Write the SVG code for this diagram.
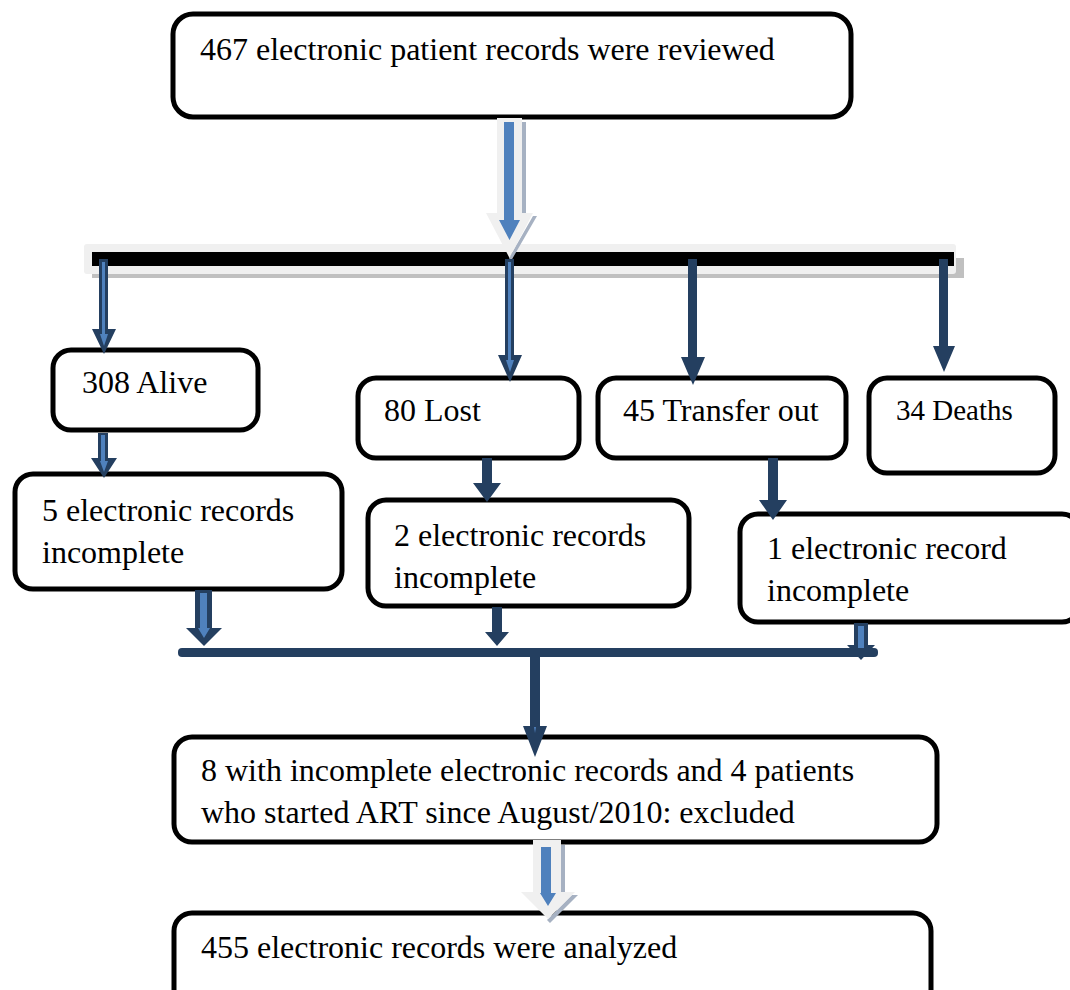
<svg xmlns="http://www.w3.org/2000/svg" width="1070" height="990" viewBox="0 0 1070 990">
<style>
.box{fill:#fff;stroke:#000;stroke-width:5}
.t{font-family:"Liberation Serif","Times New Roman",serif;font-size:32px;fill:#000}
.nav{fill:#243f60}
.blu{fill:#4f81bd}
.big{fill:#f0f0f0}
.sh{fill:#a6b1c2}
</style>
<rect width="1070" height="990" fill="#fff"/>
<g id="n1"><rect class="box" x="173" y="14" width="678" height="103" rx="20"/><text class="t" x="200" y="60">467 electronic patient records were reviewed</text></g>
<g id="n2"><rect class="box" x="53" y="350" width="205" height="80" rx="18"/><text class="t" x="82" y="393">308 Alive</text></g>
<g id="n3"><rect class="box" x="358" y="378" width="221" height="80" rx="18"/><text class="t" x="384" y="421">80 Lost</text></g>
<g id="n4"><rect class="box" x="598" y="378" width="248" height="80" rx="18"/><text class="t" x="623" y="421">45 Transfer out</text></g>
<g id="n5"><rect class="box" x="869" y="378" width="186" height="95" rx="18"/><text class="t" x="896" y="420" style="font-size:29px">34 Deaths</text></g>
<g id="n6"><rect class="box" x="15" y="474" width="327" height="115" rx="18"/><text class="t" x="42" y="521">5 electronic records</text><text class="t" x="42" y="563">incomplete</text></g>
<g id="n7"><rect class="box" x="368" y="500" width="321" height="106" rx="18"/><text class="t" x="394" y="546">2 electronic records</text><text class="t" x="394" y="588">incomplete</text></g>
<g id="n8"><rect class="box" x="740" y="514" width="340" height="108" rx="18"/><text class="t" x="767" y="559">1 electronic record</text><text class="t" x="767" y="601">incomplete</text></g>
<g id="n9"><rect class="box" x="174" y="737" width="763" height="105" rx="18"/><text class="t" x="201" y="781">8 with incomplete electronic records and 4 patients</text><text class="t" x="201" y="823">who started ART since August/2010: excluded</text></g>
<g id="n10"><rect class="box" x="174" y="913" width="757" height="100" rx="18"/><text class="t" x="201" y="958">455 electronic records were analyzed</text></g>
<g id="connectors">
<!-- bar -->
<rect x="92" y="258" width="872" height="20" fill="#c0c0c0"/>
<rect x="84" y="244" width="872" height="30" rx="3" fill="#f0f0f0"/>
<rect x="92" y="252" width="862" height="14" fill="#000"/>
<!-- top big arrow -->
<path class="sh" d="M522 122h4v94h11l-26 45l-2 -3l24 -42h-11z"/>
<path class="big" d="M497 118h25v95h11l-23.5 45l-23.5 -45h11z"/>
<path class="blu" d="M504 122h10v98h6l-10.5 20l-10.5 -20h5z"/>
<!-- arrows from bar -->
<path class="nav" d="M99 259h9v70h8l-12 25l-12 -25h7z"/><path class="blu" d="M102 262h3v72h3l-4 12l-4 -12h2z"/>
<path class="nav" d="M505 259h9v96h8l-12 27l-12 -27h7z"/><path class="blu" d="M508 262h3v98h3l-4 12l-4 -12h2z"/>
<path class="nav" d="M688 259h9v98h8l-12 28l-12 -28h7z"/>
<path class="nav" d="M939 259h9v87h7l-11 26l-11 -26h6z"/>
<!-- second row -->
<path class="nav" d="M98 433h10v25h9l-13 20l-13 -20h7z"/><path class="blu" d="M101 435h4v26h3l-4 11l-4 -11h1z"/>
<path class="nav" d="M482 458h10v25h9l-14 19l-14 -19h9z"/>
<path class="nav" d="M768 458h10v42h9l-14 20l-14 -20h9z"/>
<!-- to lower line -->
<path class="nav" d="M195 590h17v38h10l-18 18l-18 -18h9z"/><path class="blu" d="M200 593h7v35h3l-6 10l-6 -10h2z"/>
<path class="nav" d="M492 607h10v25h7l-12 14l-12 -14h7z"/>
<path class="nav" d="M854 623h14v22h7l-14 15l-14 -15h7z"/><path class="blu" d="M858 626h6v24h2l-5 6l-5 -6h2z"/>
<rect x="178" y="648" width="700" height="9" rx="4" fill="#243f60"/>
<path class="nav" d="M530 656h10v70h7l-12 31l-12 -31h7z"/><path class="blu" d="M534 727h2l-1 6z"/>
<!-- bottom big arrow -->
<path class="sh" d="M561 845h4v50h13l-28 28l-3 -3l25 -25h-11z"/>
<path class="big" d="M533 840h28v52h14l-27 27l-27 -27h12z"/>
<path class="blu" d="M541 847h10v46h5l-8 13l-8 -13h1z"/>
</g>
</svg>
